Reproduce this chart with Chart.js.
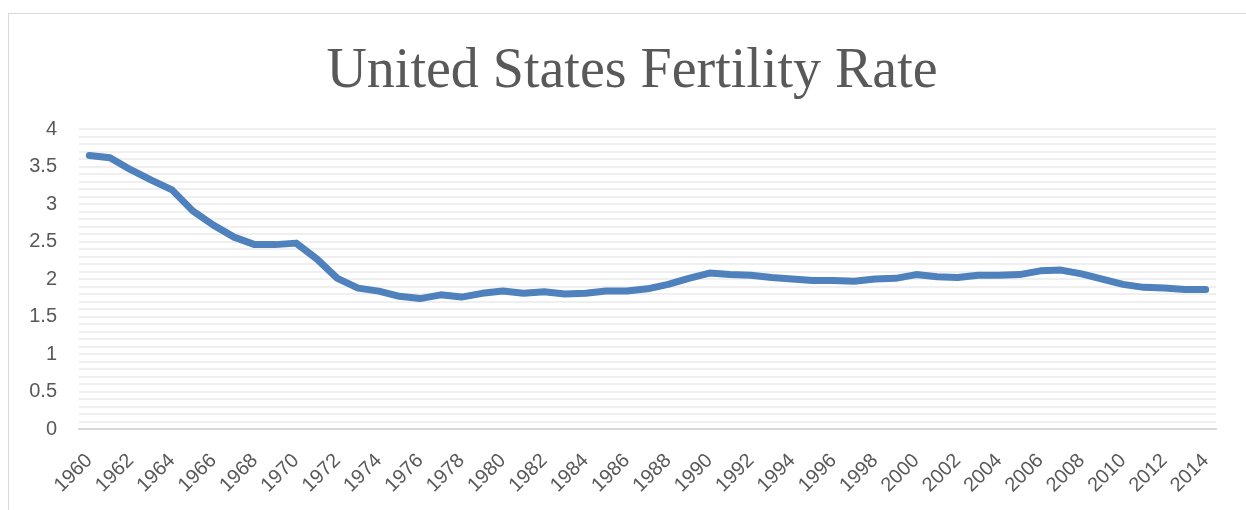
<!DOCTYPE html>
<html>
<head>
<meta charset="utf-8">
<script src="https://cdn.jsdelivr.net/npm/chart.js@4.4.1/dist/chart.umd.min.js"></script>
<style>
  html, body { margin: 0; padding: 0; background: #ffffff; overflow: hidden; width: 1246px; height: 510px; }
  #frame { position: absolute; left: 8px; top: 13px; width: 1300px; height: 600px; border: 1px solid #d9d9d9; box-sizing: border-box; }
  #chart { position: absolute; left: 0; top: 0; }
</style>
</head>
<body>
<div id="frame"></div>
<canvas id="chart" width="1246" height="510"></canvas>
<script>
const chartTitle = "United States Fertility Rate";
const years = [
  "1960","1961","1962","1963","1964","1965","1966","1967","1968","1969",
  "1970","1971","1972","1973","1974","1975","1976","1977","1978","1979",
  "1980","1981","1982","1983","1984","1985","1986","1987","1988","1989",
  "1990","1991","1992","1993","1994","1995","1996","1997","1998","1999",
  "2000","2001","2002","2003","2004","2005","2006","2007","2008","2009",
  "2010","2011","2012","2013","2014"
];
const fertilityRate = [
  3.65, 3.62, 3.46, 3.32, 3.19, 2.91, 2.72, 2.56, 2.46, 2.46,
  2.48, 2.27, 2.01, 1.88, 1.84, 1.77, 1.74, 1.79, 1.76, 1.81,
  1.84, 1.81, 1.83, 1.80, 1.81, 1.84, 1.84, 1.87, 1.93, 2.01,
  2.08, 2.06, 2.05, 2.02, 2.00, 1.98, 1.98, 1.97, 2.00, 2.01,
  2.06, 2.03, 2.02, 2.05, 2.05, 2.06, 2.11, 2.12, 2.07, 2.00,
  1.93, 1.89, 1.88, 1.86, 1.86
];
const yTickLabels = ["0", "0.5", "1", "1.5", "2", "2.5", "3", "3.5", "4"];

const textColor = "#595959";

new Chart(document.getElementById("chart"), {
  type: "line",
  data: {
    labels: years,
    datasets: [{
      label: chartTitle,
      data: fertilityRate,
      borderColor: "#4f81bd",
      backgroundColor: "#4f81bd",
      borderWidth: 7,
      pointRadius: 0,
      tension: 0,
      borderCapStyle: "round",
      borderJoinStyle: "round",
      fill: false,
      yAxisID: "y"
    }]
  },
  options: {
    responsive: false,
    animation: false,
    devicePixelRatio: 1,
    layout: { padding: { left: 18, right: 0, top: 0, bottom: 0 } },
    plugins: {
      legend: { display: false },
      tooltip: { enabled: false },
      title: {
        display: true,
        text: chartTitle,
        color: textColor,
        font: { family: "'Liberation Serif', serif", size: 56, weight: "normal" },
        padding: { top: 39, bottom: 23 }
      }
    },
    scales: {
      x: {
        offset: true,
        grid: { display: false, drawTicks: false },
        border: { display: true, color: "#d9d9d9", width: 2 },
        ticks: {
          autoSkip: false,
          minRotation: 45,
          maxRotation: 45,
          padding: 20,
          color: textColor,
          font: { family: "'Liberation Sans', sans-serif", size: 20 },
          callback: function (v, i) { return i % 2 === 0 ? years[i] : ""; }
        },
        afterFit: function (axis) { axis.height = 81; }
      },
      y: {
        position: "left",
        min: 0,
        max: 4,
        grid: { color: "#efefef", lineWidth: 2, drawTicks: false },
        border: { display: false },
        ticks: {
          stepSize: 0.1,
          autoSkip: false,
          padding: 22,
          color: textColor,
          font: { family: "'Liberation Sans', sans-serif", size: 20 },
          callback: function (v) {
            const k = Math.round(v * 10);
            return k % 5 === 0 ? yTickLabels[k / 5] : "";
          }
        },
        afterFit: function (axis) { axis.width = 61; }
      },
      spacer: {
        type: "linear",
        position: "right",
        display: true,
        grid: { display: false, drawTicks: false },
        border: { display: false },
        ticks: { display: false },
        afterFit: function (axis) { axis.width = 30; }
      }
    }
  }
});
</script>
</body>
</html>
